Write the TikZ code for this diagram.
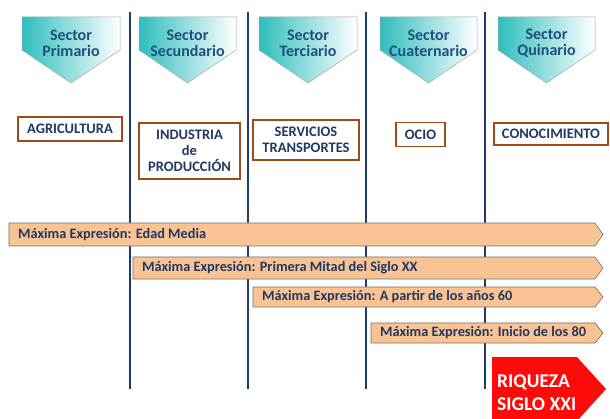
\documentclass[tikz,border=0pt]{standalone}
\usepackage{fontspec}
\setmainfont{Carlito}
\begin{document}
\definecolor{divider}{HTML}{1F3B6E}
\definecolor{sectortxt}{HTML}{1F5080}
\definecolor{boxtxt}{HTML}{1F3864}
\definecolor{boxline}{HTML}{A04A1C}
\definecolor{barfill}{HTML}{FAC394}
\definecolor{barline}{HTML}{6E6E6E}
\definecolor{teal1}{HTML}{2EBDBD}
\definecolor{wealth}{HTML}{FF0A0A}
\begin{tikzpicture}[x=1pt,y=-1pt,
  divline/.style={draw=divider,line width=2.6pt},
  sectorshape/.style={draw=gray!70,line width=0.5pt,left color=teal1,right color=white},
  sectorlabel/.style={text=sectortxt,font=\bfseries\fontsize{16}{16}\selectfont,align=center,inner sep=0pt},
  activitybox/.style={draw=boxline,line width=1.8pt,fill=white,text=boxtxt,
    font=\bfseries\fontsize{14.5}{16}\selectfont,align=center,inner sep=0pt},
  periodbar/.style={draw=barline,line width=0.6pt,fill=barfill},
  periodlabel/.style={text=boxtxt,font=\bfseries\fontsize{14.3}{16}\selectfont,anchor=west,inner sep=0pt},
  wealthlabel/.style={text=white,font=\bfseries\fontsize{19.5}{23}\selectfont,align=left,anchor=west,inner sep=0pt}]
\useasboundingbox (0,0) rectangle (610,419);

% dividing lines between sectors
\foreach \xx/\nm in {130/d1,248/d2,366/d3,485/d4}{
  \coordinate (\nm t) at (\xx,12);
  \coordinate (\nm b) at (\xx,389);
  \draw[divline] (\nm t) -- (\nm b);
}

% sector headers (downward pentagons)
\foreach \xa/\xb/\nm/\txt in {22/120/s1/{Sector\\Primario},139/236/s2/{Sector\\Secundario},
    259/357/s3/{Sector\\Terciario},380/477/s4/{Sector\\Cuaternario},498/595/s5/{Sector\\Quinario}}{
  \path[sectorshape] (\xa,17) -- (\xb,17) -- (\xb,50) -- ({(\xa+\xb)/2},83) -- (\xa,50) -- cycle;
  \node[sectorlabel] (\nm) at ({(\xa+\xb)/2},43) {\txt};
}

% activity boxes
\node[activitybox,minimum width=104pt,minimum height=24pt] (agr) at (70,129) {AGRICULTURA};
\node[activitybox,minimum width=101pt,minimum height=56pt] (ind) at (189.5,151) {INDUSTRIA\\de\\PRODUCCIÓN};
\node[activitybox,minimum width=106pt,minimum height=40pt] (ser) at (306,140) {SERVICIOS\\TRANSPORTES};
\node[activitybox,minimum width=49pt,minimum height=24pt] (oci) at (420.5,134.5) {OCIO};
\node[activitybox,minimum width=114pt,minimum height=22pt] (con) at (551,134) {CONOCIMIENTO};

% periods of maximum expression
\foreach \xl/\ya/\yb/\nm/\txt in {9/223/246/p1/{Máxima Expresión: Edad Media},
    133/257/279/p2/{Máxima Expresión: Primera Mitad del Siglo XX},
    253/287/307/p3/{Máxima Expresión: A partir de los años 60},
    371/323/343/p4/{Máxima Expresión: Inicio de los 80}}{
  \path[periodbar] (\xl,\ya) -- (595,\ya) -- (603,{(\ya+\yb)/2}) -- (595,\yb) -- (\xl,\yb) -- cycle;
  \node[periodlabel] (\nm) at (\xl+9,{(\ya+\yb)/2}) {\txt};
}

% final arrow
\path[fill=wealth] (492,357) -- (577,357) -- (606,389) -- (577,421) -- (492,421) -- cycle;
\node[wealthlabel] (riq) at (497,393) {RIQUEZA\\SIGLO XXI};
\end{tikzpicture}
\end{document}
